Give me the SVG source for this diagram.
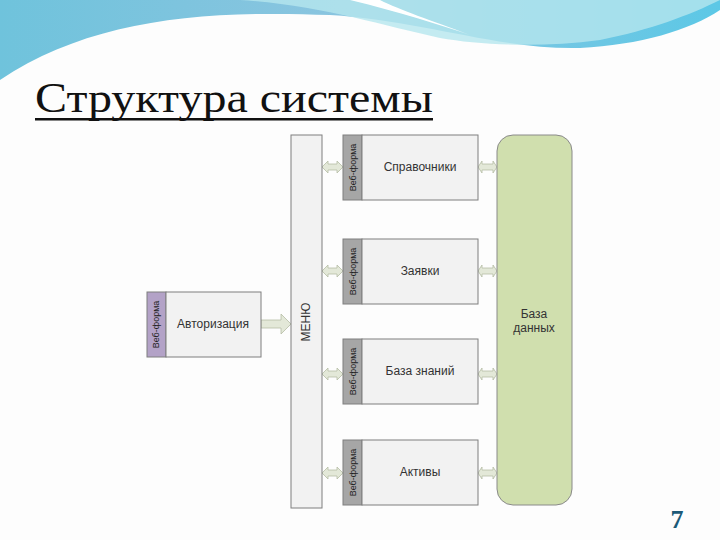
<svg xmlns="http://www.w3.org/2000/svg" width="720" height="540" viewBox="0 0 720 540">
<defs>
<linearGradient id="wv" x1="0" y1="0" x2="1" y2="0"><stop offset="0" stop-color="#6fc3dc"/><stop offset="0.5" stop-color="#8cc5e0"/><stop offset="1" stop-color="#5cc8e6"/></linearGradient>
<style>
.box{fill:#f2f2f2;stroke:#7f7f7f;stroke-width:1}
.tab{fill:#a6a6a6;stroke:#7f7f7f;stroke-width:1}
.t{font-family:"Liberation Sans",Arial,sans-serif;font-size:12px;fill:#333;text-anchor:middle}
.wf{font-family:"Liberation Sans",Arial,sans-serif;font-size:9px;fill:#222;text-anchor:middle}
.arr{fill:#e3e8d8;stroke:#b5bca5;stroke-width:0.8}
</style>
</defs>
<rect width="720" height="540" fill="#fdfdfd"/>
<g id="bg">
<path d="M0,0 H720 V10 C690,30 640,45 580,48 C500,50 420,20 330,15 C200,10 90,20 0,80 Z" fill="url(#wv)"/>
<path d="M240,0 C320,5 380,25 440,38 C480,45 540,48 600,40 C650,30 690,15 720,0 Z" fill="#b5e6ee" opacity="0.8"/>
<path d="M350,0 C400,12 440,25 470,35 C430,20 400,10 380,0 Z" fill="#fff"/>
</g>
<g id="title">
<text x="35" y="112" font-family="Liberation Serif,serif" font-size="42" fill="#111" textLength="398" lengthAdjust="spacingAndGlyphs">Структура системы</text>
<rect x="35" y="118" width="398" height="2.5" fill="#111"/>
</g>
<g id="connectors">
<path class="arr" d="M261,320 H281 V314 L291,324 L281,334 V328 H261 Z"/>
<path class="arr" d="M322,167 L328,161 V164 H337 V161 L343,167 L337,173 V170 H328 V173 Z"/>
<path class="arr" d="M322,271 L328,265 V268 H337 V265 L343,271 L337,277 V274 H328 V277 Z"/>
<path class="arr" d="M322,374 L328,368 V371 H337 V368 L343,374 L337,380 V377 H328 V380 Z"/>
<path class="arr" d="M322,473 L328,467 V470 H337 V467 L343,473 L337,479 V476 H328 V479 Z"/>
<path class="arr" d="M478,167 L482,161 V164 H493 V161 L497,167 L493,173 V170 H482 V173 Z"/>
<path class="arr" d="M478,271 L482,265 V268 H493 V265 L497,271 L493,277 V274 H482 V277 Z"/>
<path class="arr" d="M478,374 L482,368 V371 H493 V368 L497,374 L493,380 V377 H482 V380 Z"/>
<path class="arr" d="M478,473 L482,467 V470 H493 V467 L497,473 L493,479 V476 H482 V479 Z"/>
</g>
<g id="menu">
<rect class="box" x="291" y="135" width="31" height="373"/>
<text class="t" transform="translate(310,322) rotate(-90)" font-size="13">МЕНЮ</text>
</g>
<g id="auth">
<rect x="147" y="292" width="19" height="65" fill="#b3a2c7" stroke="#7f7f7f"/>
<text class="wf" transform="translate(159,324.5) rotate(-90)">Веб-форма</text>
<rect class="box" x="166" y="292" width="95" height="65"/>
<text class="t" x="213" y="328">Авторизация</text>
</g>
<g id="spr">
<rect class="tab" x="343" y="135" width="19" height="65"/>
<text class="wf" transform="translate(355.5,167.5) rotate(-90)">Веб-форма</text>
<rect class="box" x="362" y="135" width="116" height="65"/>
<text class="t" x="420" y="171">Справочники</text>
</g>
<g id="zay">
<rect class="tab" x="343" y="239" width="19" height="65"/>
<text class="wf" transform="translate(355.5,271.5) rotate(-90)">Веб-форма</text>
<rect class="box" x="362" y="239" width="116" height="65"/>
<text class="t" x="420" y="275">Заявки</text>
</g>
<g id="bz">
<rect class="tab" x="343" y="339" width="19" height="65"/>
<text class="wf" transform="translate(355.5,371.5) rotate(-90)">Веб-форма</text>
<rect class="box" x="362" y="339" width="116" height="65"/>
<text class="t" x="420" y="375">База знаний</text>
</g>
<g id="akt">
<rect class="tab" x="343" y="440" width="19" height="65"/>
<text class="wf" transform="translate(355.5,472.5) rotate(-90)">Веб-форма</text>
<rect class="box" x="362" y="440" width="116" height="65"/>
<text class="t" x="420" y="476">Активы</text>
</g>
<g id="db">
<rect x="497" y="135" width="75" height="370" rx="16" fill="#d0dfae" stroke="#8a8a8a"/>
<text class="t" x="534" y="318">База</text>
<text class="t" x="534" y="332">данных</text>
</g>
<g id="page"><text x="677" y="528" font-family="Liberation Serif,serif" font-size="26" font-weight="bold" fill="#1c5a78" text-anchor="middle">7</text></g>
</svg>
